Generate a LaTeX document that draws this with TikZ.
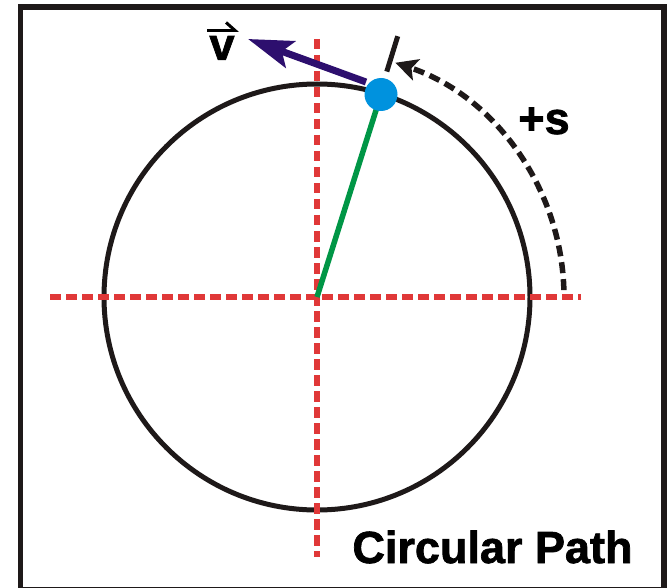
\documentclass[tikz,border=0pt]{standalone}
\usepackage{fontspec}
\setmainfont{Liberation Sans}[BoldFeatures={FakeBold=1.6}]
\usetikzlibrary{arrows.meta,calc}
\definecolor{framec}{RGB}{30,25,25}
\definecolor{redd}{RGB}{224,56,56}
\definecolor{greenl}{RGB}{0,150,70}
\definecolor{dotblue}{RGB}{0,146,222}
\definecolor{vcol}{RGB}{45,15,110}
\tikzset{
  framebox/.style={draw=framec, line width=5.5},
  pathcircle/.style={draw=framec, line width=5},
  axisline/.style={draw=redd, line width=6, dash pattern=on 10.5 off 5.5},
  radius line/.style={draw=greenl, line width=5.5},
  velarrow/.style={draw=vcol, line width=7, -{Stealth[length=45, width=28, inset=9]}, fill=vcol},
  arcarrow/.style={draw=framec, line width=5.5, dash pattern=on 11 off 6, -{Stealth[length=22, width=22, inset=5]}},
  tickline/.style={draw=framec, line width=5},
  dotnode/.style={circle, fill=dotblue, inner sep=0, minimum size=33},
  lbl/.style={font=\fontsize{45}{45}\selectfont\bfseries, inner sep=0, text=black}
}
\begin{document}
\begin{tikzpicture}[x=1pt, y=-1pt]
\useasboundingbox (0,0) rectangle (669,588);
\draw[framebox] (20.5,7) rectangle (664,590);
\coordinate (o) at (317,297);
\coordinate (p) at (381,94.5);
\draw[pathcircle] (o) circle (213);
\coordinate (hl) at (50,297);
\coordinate (hr) at (581,297);
\coordinate (vt) at (317,39);
\coordinate (vb) at (317,557);
\draw[axisline] (hl) -- (hr);
\draw[axisline] (vt) -- (vb);
\draw[radius line] (o) -- (p);
\coordinate (vtail) at (366,82);
\coordinate (vtip) at (248,39);
\draw[velarrow] (vtail) -- (vtip);
\node[dotnode] (dot) at (p) {};
\coordinate (tk1) at ($(o)+(-72.8:236)$);
\coordinate (tk2) at ($(o)+(-72.8:273)$);
\draw[tickline] (tk1) -- (tk2);
\draw[arcarrow] ($(o)+(-1.6:247)$) arc[start angle=-1.6, end angle=-71.5, radius=247];
\node[lbl] (vlab) at (222,48) {v};
\coordinate (va) at (207,30.5);
\coordinate (vb2) at (239,30.5);
\draw[line width=3, -{Straight Barb[harpoon, length=9, width=16]}] (va) -- (vb2);
\node[lbl] (slab) at (544,121) {+s};
\node[lbl, anchor=base] (title) at (492.5,563) {Circular Path};
\end{tikzpicture}
\end{document}
